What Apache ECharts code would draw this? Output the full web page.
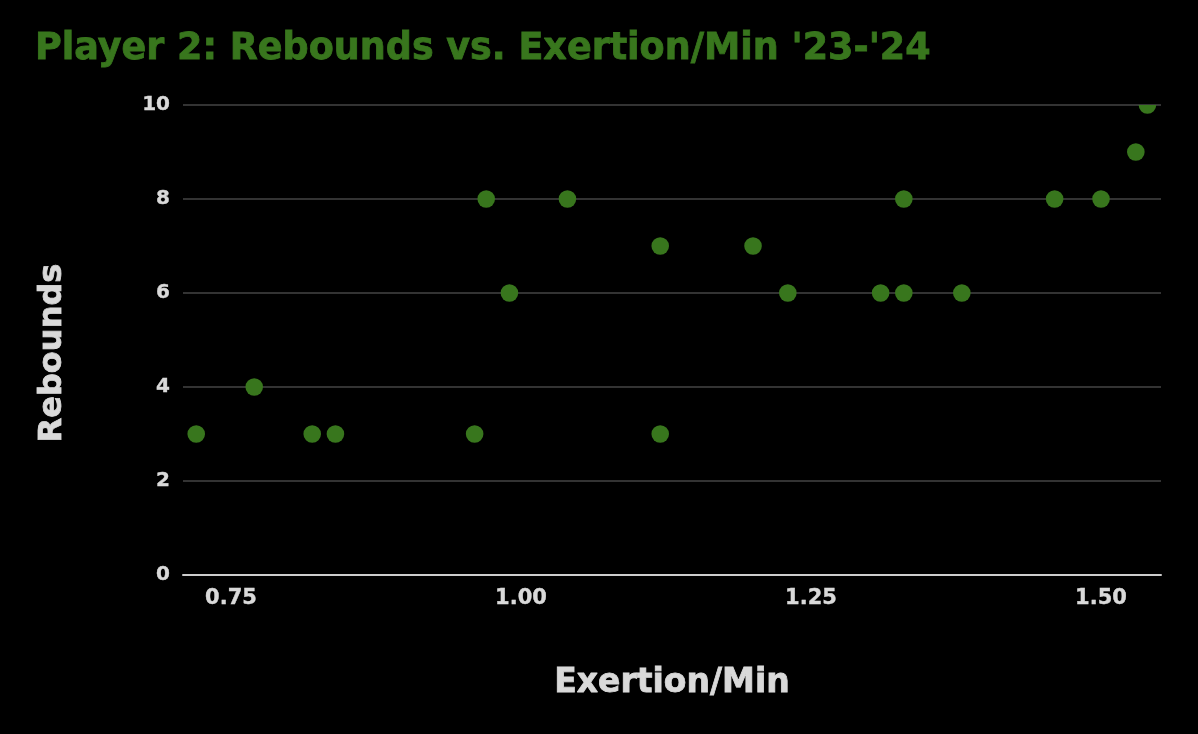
<!DOCTYPE html>
<html>
<head>
<meta charset="utf-8">
<title>Player 2: Rebounds vs. Exertion/Min</title>
<script src="https://cdn.jsdelivr.net/npm/echarts@6/dist/echarts.min.js"></script>
<style>
  html, body { margin: 0; padding: 0; background: #000; }
  #chart { width: 1198px; height: 734px; }
</style>
</head>
<body>
<div id="chart"></div>
<script>
// exertion per minute vs rebounds, one point per game
const exertion = [0.72, 0.77, 0.82, 0.84, 0.96, 0.97, 0.99, 1.04, 1.12, 1.12,
                  1.20, 1.23, 1.31, 1.33, 1.33, 1.38, 1.46, 1.50, 1.53, 1.54];
const rebounds = [3, 4, 3, 3, 3, 8, 6, 8, 7, 3,
                  7, 6, 6, 6, 8, 6, 8, 8, 9, 10];
const xTicks = [0.75, 1.0, 1.25, 1.5];

const green = "#38761d";
const textColor = "#d9d9d9";
const font = "'DejaVu Sans', Verdana, sans-serif";

const points = exertion.map((x, i) => [x, rebounds[i]]);

const chart = echarts.init(document.getElementById("chart"));

// heavier look, closer to Verdana Bold
function heavy(color, size) {
  return {
    color: color,
    fontFamily: font,
    fontWeight: "bold",
    fontSize: size,
    textBorderColor: color,
    textBorderWidth: 0.8
  };
}

chart.setOption({
  backgroundColor: "#000",
  animation: false,
  title: {
    text: "Player 2: Rebounds vs. Exertion/Min '23-'24",
    left: 30,
    top: 26,
    textStyle: heavy(green, 36.5)
  },
  grid: { left: 183, right: 37, top: 105, bottom: 159 },
  xAxis: {
    type: "value",
    min: 0.7086,
    max: 1.5517,
    name: "Exertion/Min",
    nameLocation: "middle",
    nameGap: 92,
    nameTextStyle: heavy(textColor, 33),
    axisLine: { show: true, lineStyle: { color: "#cccccc", width: 2 } },
    axisTick: { show: false },
    splitLine: { show: false },
    axisLabel: Object.assign(heavy(textColor, 21), {
      customValues: xTicks,
      formatter: v => v.toFixed(2),
      textBorderWidth: 0.4,
      margin: 13
    })
  },
  yAxis: {
    type: "value",
    min: 0,
    max: 10,
    interval: 2,
    name: "Rebounds",
    nameLocation: "middle",
    nameGap: 114,
    nameTextStyle: Object.assign(heavy(textColor, 32), { padding: [0, 26, 0, 0] }),
    axisLine: { show: false },
    axisTick: { show: false },
    splitLine: { lineStyle: { color: "#444444", width: 1.5 } },
    axisLabel: Object.assign(heavy(textColor, 20), {
      textBorderWidth: 0.4,
      margin: 13
    })
  },
  series: [{
    type: "custom",
    clip: true,
    data: points,
    renderItem: function (params, api) {
      const p = api.coord([api.value(0), api.value(1)]);
      return {
        type: "circle",
        shape: { cx: p[0], cy: p[1], r: 8.8 },
        style: { fill: green }
      };
    }
  }]
});
</script>
</body>
</html>
